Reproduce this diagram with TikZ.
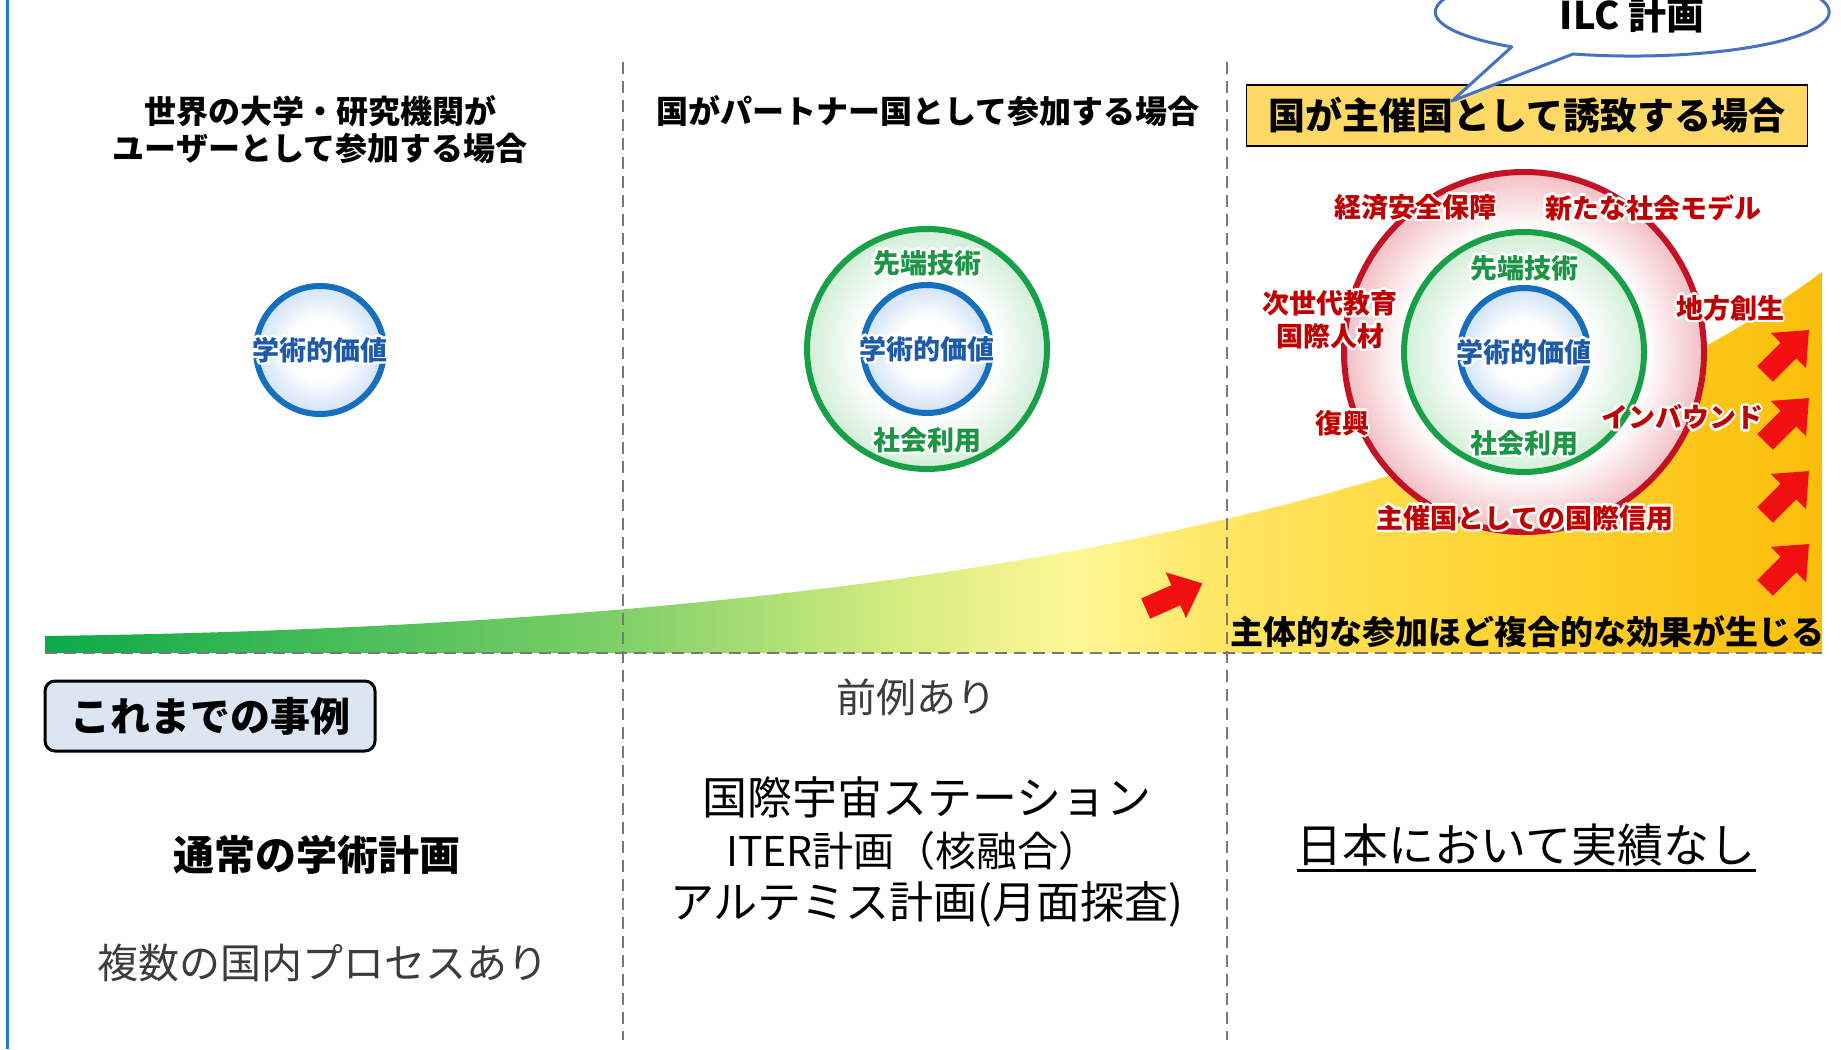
\documentclass[tikz,border=0pt]{standalone}
\usepackage{fontspec}
\newfontfamily\jp{Noto Sans CJK JP}
\usetikzlibrary{calc}

\definecolor{ringblue}{RGB}{22,110,190}
\definecolor{ringgreen}{RGB}{24,160,72}
\definecolor{ringred}{RGB}{196,18,36}
\definecolor{txtblue}{RGB}{30,90,170}
\definecolor{txtgreen}{RGB}{28,150,68}
\definecolor{txtred}{RGB}{192,0,0}
\definecolor{fillblue}{RGB}{208,226,246}
\definecolor{fillgreen}{RGB}{210,238,215}
\definecolor{fillred}{RGB}{242,190,194}
\definecolor{wg1}{RGB}{12,170,72}
\definecolor{wg2}{RGB}{125,207,104}
\definecolor{wg3}{RGB}{212,236,128}
\definecolor{wg4}{RGB}{255,247,150}
\definecolor{wg5}{RGB}{255,230,100}
\definecolor{wg6}{RGB}{255,212,50}
\definecolor{wg7}{RGB}{250,190,10}
\definecolor{boxyellow}{RGB}{255,217,102}
\definecolor{casefill}{RGB}{220,230,242}
\definecolor{calloutblue}{RGB}{68,114,196}
\definecolor{borderblue}{RGB}{30,120,210}
\definecolor{arrowred}{RGB}{240,16,16}
\definecolor{divgray}{RGB}{120,120,120}
\definecolor{softblack}{RGB}{60,60,60}

\pgfdeclarehorizontalshading{wedgeshade}{100bp}{color(0bp)=(wg1); color(25bp)=(wg1); color(41bp)=(wg2); color(49bp)=(wg3); color(54bp)=(wg4); color(58bp)=(wg5); color(66bp)=(wg6); color(75bp)=(wg7); color(100bp)=(wg7)}
\pgfdeclareradialshading{blueglow}{\pgfpoint{0bp}{0bp}}{color(0bp)=(white); color(12bp)=(white); color(25bp)=(fillblue); color(50bp)=(fillblue)}
\pgfdeclareradialshading{greenglow}{\pgfpoint{0bp}{0bp}}{color(0bp)=(white); color(14bp)=(white); color(25bp)=(fillgreen); color(50bp)=(fillgreen)}
\pgfdeclareradialshading{redglow}{\pgfpoint{0bp}{0bp}}{color(0bp)=(white); color(17bp)=(white); color(25bp)=(fillred); color(50bp)=(fillred)}

% white halo behind a one-line text
\newcommand\halotxt[1]{\setbox0=\hbox{#1}%
  \rlap{\color{white}\kern2.6pt\copy0}%
  \rlap{\color{white}\kern-2.6pt\copy0}%
  \rlap{\color{white}\raise2.6pt\copy0}%
  \rlap{\color{white}\lower2.6pt\copy0}%
  \rlap{\color{white}\kern1.9pt\raise1.9pt\copy0}%
  \rlap{\color{white}\kern-1.9pt\raise1.9pt\copy0}%
  \rlap{\color{white}\kern1.9pt\lower1.9pt\copy0}%
  \rlap{\color{white}\kern-1.9pt\lower1.9pt\copy0}%
  \box0}

\tikzset{
  divider/.style={divgray, line width=2, dash pattern=on 12pt off 7pt},
  head/.style={font=\jp\bfseries\fontsize{32}{37}\selectfont, align=center, inner sep=0},
  lab/.style={font=\jp\bfseries\fontsize{27}{31}\selectfont, inner sep=0},
  bluelab/.style={lab, text=txtblue},
  greenlab/.style={lab, text=txtgreen},
  redlab/.style={lab, text=txtred},
  bigtxt/.style={font=\jp\fontsize{44}{50}\selectfont, inner sep=0},
  redarr/.pic={\fill[arrowred] (-31,-11) -- (2,-11) -- (2,-25) -- (31,0) -- (2,25) -- (2,11) -- (-31,11) -- cycle;}
}

\begin{document}
\begin{tikzpicture}[x=1pt,y=-1pt]
\useasboundingbox (0,0) rectangle (1841,1049);
\fill[white] (0,0) rectangle (1841,1049);

% growth wedge
\shade[shading=wedgeshade] (45,636) .. controls (900,625) and (1500,510) .. (1822,272) -- (1822,653) -- (45,653) -- cycle;

% dividers
\draw[divider] (623,62) -- (623,1040);
\draw[divider] (1227,62) -- (1227,1040);
\draw[divider] (45,653) -- (1822,653);

% left border
\draw[borderblue, line width=3] (7,0) -- (7,1049);

% column 1 circle
\shade[shading=blueglow] (320,350) circle[radius=64];
\draw[ringblue, line width=6] (320,350) circle[radius=64];
\node[bluelab] (c1v) at (320,350) {\halotxt{学術的価値}};

% column 2 circles
\shade[shading=greenglow] (927,349) circle[radius=120];
\draw[ringgreen, line width=6] (927,349) circle[radius=120];
\shade[shading=blueglow] (927,349) circle[radius=64];
\draw[ringblue, line width=6] (927,349) circle[radius=64];
\node[greenlab] (c2t) at (927,263) {\halotxt{先端技術}};
\node[bluelab] (c2v) at (927,349) {\halotxt{学術的価値}};
\node[greenlab] (c2s) at (927,440) {\halotxt{社会利用}};

% column 3 circles
\shade[shading=redglow] (1524,352) circle[radius=180];
\draw[ringred, line width=6] (1524,352) circle[radius=180];
\shade[shading=greenglow] (1524,352) circle[radius=120];
\draw[ringgreen, line width=6] (1524,352) circle[radius=120];
\shade[shading=blueglow] (1524,352) circle[radius=64];
\draw[ringblue, line width=6] (1524,352) circle[radius=64];
\node[greenlab] (c3t) at (1524,268) {\halotxt{先端技術}};
\node[bluelab] (c3v) at (1524,352) {\halotxt{学術的価値}};
\node[greenlab] (c3s) at (1524,443) {\halotxt{社会利用}};
\node[redlab] (r1) at (1415,207) {\halotxt{経済安全保障}};
\node[redlab] (r2) at (1653,208) {\halotxt{新たな社会モデル}};
\node[redlab] (r3a) at (1330,303) {\halotxt{次世代教育}};
\node[redlab] (r3b) at (1330,336) {\halotxt{国際人材}};
\node[redlab] (r4) at (1730,308) {\halotxt{地方創生}};
\node[redlab] (r5) at (1342,423) {\halotxt{復興}};
\node[redlab] (r6) at (1682,417) {\halotxt{インバウンド}};
\node[redlab] (r7) at (1525,518) {\halotxt{主催国としての国際信用}};

% red arrows
\pic[rotate=24] at (1174,596) {redarr};
\begin{scope}
  \clip (1700,250) rectangle (1813,640);
  \pic[rotate=45] at (1787,352) {redarr};
  \pic[rotate=45] at (1787,420) {redarr};
  \pic[rotate=45] at (1787,493) {redarr};
  \pic[rotate=45] at (1787,566) {redarr};
\end{scope}

\node[font=\jp\bfseries\fontsize{33}{38}\selectfont, inner sep=0] (eff) at (1527,632) {主体的な参加ほど複合的な効果が生じる};

% headings
\node[head] (h1) at (320,130) {世界の大学・研究機関が\\ユーザーとして参加する場合};
\node[head] (h2) at (928,111) {国がパートナー国として参加する場合};
\node[draw=black, line width=1.2, fill=boxyellow, minimum width=561, minimum height=61, inner sep=0,
      font=\jp\bfseries\fontsize{37}{42}\selectfont] (h3) at (1527,115.5) {国が主催国として誘致する場合};

% callout
\draw[calloutblue, line width=3, fill=white, line join=round] (1452,101) -- (1573,54)
  arc[start angle=107.5, end angle=-232.3, x radius=197, y radius=44] -- cycle;
\node[font=\jp\bfseries\fontsize{38}{42}\selectfont, inner sep=0] (ilc) at (1632,15) {ILC 計画};

% bottom: cases
\node[draw=black, line width=3, fill=casefill, rounded corners=10, minimum width=330, minimum height=70, inner sep=0,
      font=\jp\bfseries\fontsize{40}{44}\selectfont] (cases) at (210,716) {これまでの事例};
\node[font=\jp\bfseries\fontsize{41}{46}\selectfont, inner sep=0] (b1) at (317,855) {通常の学術計画};
\node[bigtxt, text=softblack, font=\jp\fontsize{41}{46}\selectfont] (b2) at (323,963) {複数の国内プロセスあり};
\node[bigtxt, text=softblack, font=\jp\fontsize{40}{46}\selectfont] (b3) at (916,697) {前例あり};
\node[bigtxt, font=\jp\fontsize{45}{50}\selectfont] (b4) at (927,797) {国際宇宙ステーション};
\node[bigtxt, font=\jp\fontsize{41}{46}\selectfont] (b5) at (913,851) {ITER計画（核融合）};
\node[bigtxt, font=\jp\fontsize{44}{50}\selectfont] (b6) at (927,904) {アルテミス計画(月面探査)};
\node[bigtxt, font=\jp\fontsize{46}{52}\selectfont] (b7) at (1526,845) {日本において実績なし};
\draw[black, line width=3] ([yshift=-8pt]b7.base west) -- ([yshift=-8pt]b7.base east);
\end{tikzpicture}
\end{document}
